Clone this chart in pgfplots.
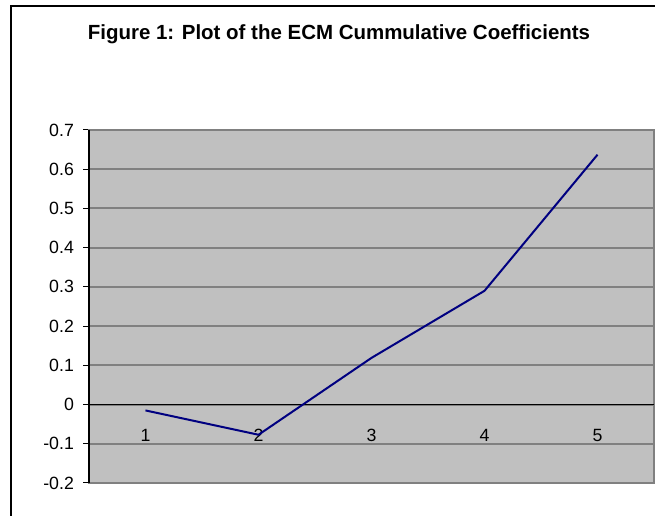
\documentclass[border=0pt]{standalone}
\usepackage{pgfplots}
\pgfplotsset{compat=1.18}
\usepackage{fontspec}
\setmainfont{Liberation Sans}
\definecolor{plotgray}{HTML}{C0C0C0}
\definecolor{gridgray}{HTML}{808080}
\definecolor{navyline}{HTML}{000080}
\begin{document}
\begin{tikzpicture}
\path[use as bounding box] (0pt,0pt) rectangle (491.25pt,387pt);
\draw[black, line width=1.4pt] (8.25pt,0pt) -- (8.25pt,383.2pt);
\draw[black, line width=1.4pt] (7.55pt,382.5pt) -- (491.25pt,382.5pt);
\node[font=\bfseries\fontsize{15.35}{18}\selectfont, anchor=base] at (254.25pt,357pt) {Figure 1: Plot of the ECM Cummulative Coefficients};
\begin{axis}[
  at={(66.75pt,24.75pt)}, anchor=south west, scale only axis,
  width=423.75pt, height=264.75pt,
  xmin=0.5, xmax=5.5, ymin=-0.2, ymax=0.7,
  axis background/.style={fill=plotgray},
  axis line style={gridgray, line width=1.5pt},
  xtick={1,2,3,4,5}, xticklabels={1,2,3,4,5},
  major x tick style={draw=none}, xtick align=inside,
  ytick={-0.2,-0.1,0,0.1,0.2,0.3,0.4,0.5,0.6,0.7},
  yticklabels={-0.2,-0.1,0,0.1,0.2,0.3,0.4,0.5,0.6,0.7},
  ytick pos=left, ytick align=outside, major tick length=4.5pt,
  major y tick style={black, line width=0.75pt},
  ymajorgrids, major grid style={gridgray, line width=1.5pt},
  extra y ticks={0}, extra y tick labels={},
  extra y tick style={grid=major, major grid style={black, line width=0.75pt}, major tick length=0pt},
  extra x ticks={0.5}, extra x tick labels={},
  extra x tick style={grid=major, major grid style={black, line width=1pt}, major tick length=0pt},
  ticklabel style={font=\fontsize{13.3}{16}\selectfont},
  yticklabel style={xshift=-3.3pt},
  xticklabel style={anchor=base, yshift=31pt},
  /pgf/number format/assume math mode=true,
  clip=false,
]
\addplot[navyline, line width=1.5pt, mark=none] coordinates {
  (1,-0.015) (2,-0.077) (3,0.119) (4,0.290) (5,0.637)
};
\end{axis}
\end{tikzpicture}
\end{document}
